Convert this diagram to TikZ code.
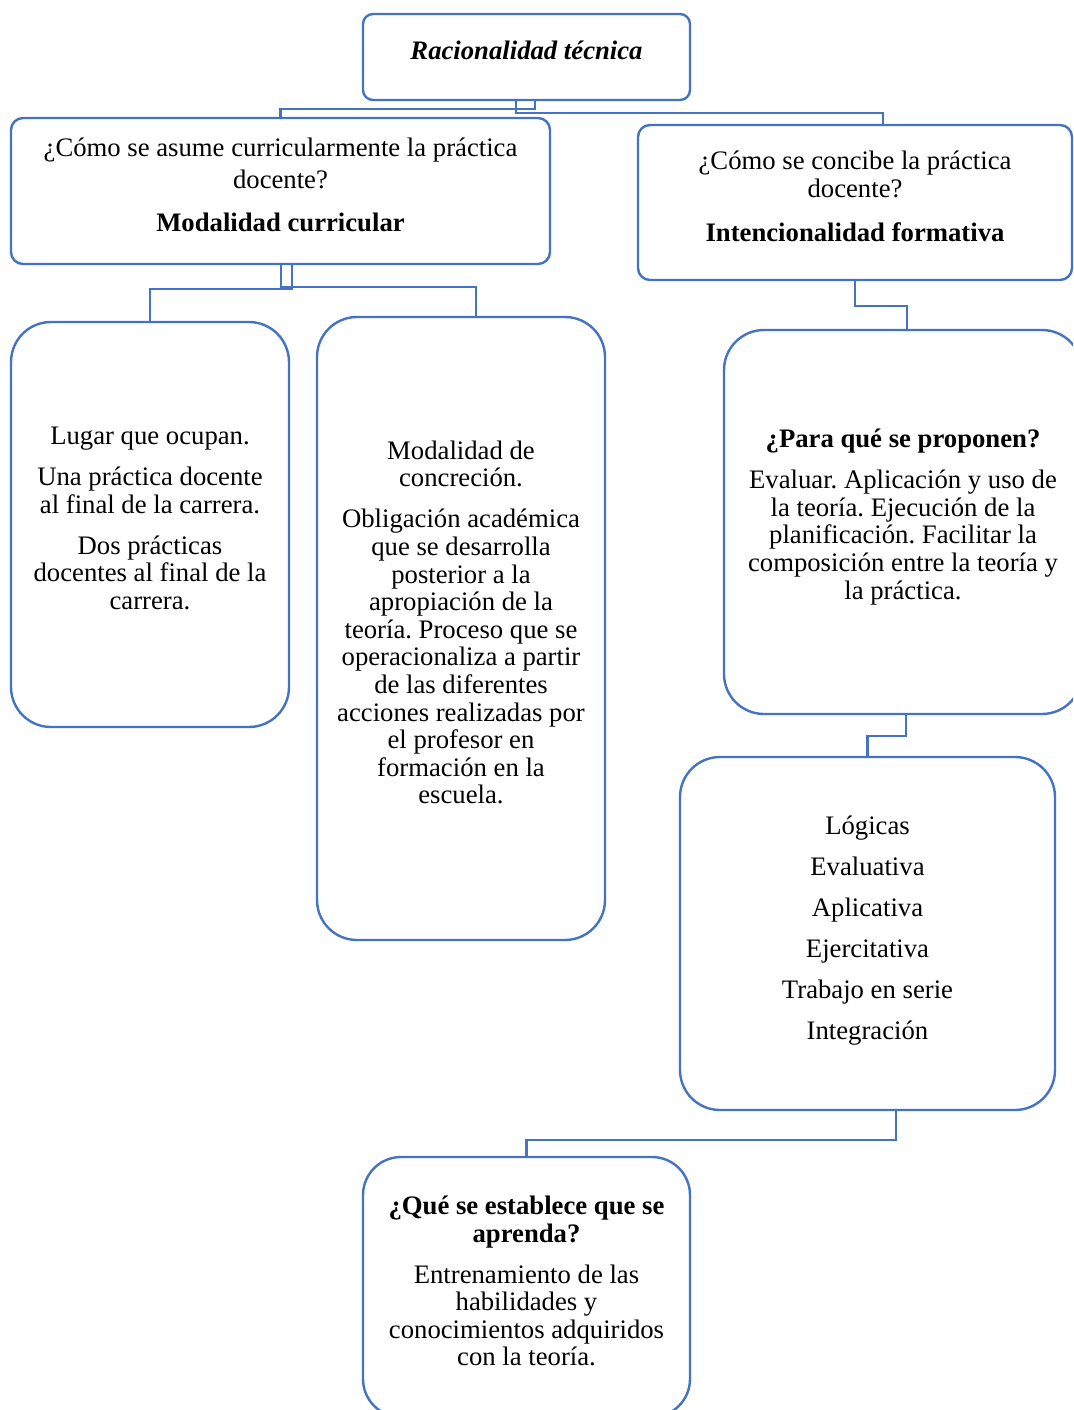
\documentclass[tikz,border=0pt]{standalone}
\usepackage{fontspec}
\setmainfont{Liberation Serif}
\usetikzlibrary{calc}
\definecolor{wordblue}{RGB}{68,114,196}
\frenchspacing
\tikzset{
  box/.style={draw=wordblue, line width=2.4pt, fill=white, inner sep=0pt},
  txt/.style={inner sep=0pt, align=center, font=\fontsize{26.7}{27.6}\selectfont\frenchspacing},
  link/.style={draw=wordblue, line width=2.4pt},
}
\begin{document}
\begin{tikzpicture}[x=1pt,y=-1pt]
\useasboundingbox (0,0) rectangle (1073,1410);
\begin{scope}
\clip (0,0) rectangle (1073,1410);
% boxes
\node[box, rounded corners=10pt, minimum width=327pt, minimum height=86pt] (top) at (526.5,57) {};
\node[box, rounded corners=12pt, minimum width=539pt, minimum height=146pt] (lh) at (280.5,191) {};
\node[box, rounded corners=12pt, minimum width=434pt, minimum height=155pt] (rh) at (855,202.5) {};
\node[box, rounded corners=40pt, minimum width=278pt, minimum height=405pt] (ba) at (150,524.5) {};
\node[box, rounded corners=40pt, minimum width=288pt, minimum height=623pt] (bb) at (461,628.5) {};
\node[box, rounded corners=40pt, minimum width=358pt, minimum height=384pt] (bc) at (903,522) {};
\node[box, rounded corners=40pt, minimum width=375pt, minimum height=353pt] (bd) at (867.5,933.5) {};
\node[box, rounded corners=38pt, minimum width=327pt, minimum height=260pt] (be) at (526.5,1287) {};
% texts
\node[txt] (ttop) at ([yshift=7pt]top.center) {\textbf{\textit{Racionalidad técnica}}};
\node[txt] (tlh) at ([yshift=6pt]lh.center)
  {¿Cómo se asume curricularmente la práctica\\[4.4pt]docente?\\[15.4pt]\textbf{Modalidad curricular}};
\node[txt] (trh) at ([yshift=6pt]rh.center)
  {¿Cómo se concibe la práctica\\docente?\\[16.4pt]\textbf{Intencionalidad formativa}};
\node[txt] (tba) at ([yshift=6pt]ba.center)
  {Lugar que ocupan.\\[13.4pt]Una práctica docente\\al final de la carrera.\\[13.4pt]Dos prácticas\\docentes al final de la\\carrera.};
\node[txt] (tbb) at ([yshift=6pt]bb.center)
  {Modalidad de\\concreción.\\[13.4pt]Obligación académica\\que se desarrolla\\posterior a la\\apropiación de la\\teoría. Proceso que se\\operacionaliza a partir\\de las diferentes\\acciones realizadas por\\el profesor en\\formación en la\\escuela.};
\node[txt] (tbc) at ([yshift=5pt]bc.center)
  {\textbf{¿Para qué se proponen?}\\[13.4pt]Evaluar. Aplicación y uso de\\la teoría. Ejecución de la\\planificación. Facilitar la\\composición entre la teoría y\\la práctica.};
\node[txt] (tbd) at ([yshift=3pt]bd.center)
  {Lógicas\\[13.4pt]Evaluativa\\[13.4pt]Aplicativa\\[13.4pt]Ejercitativa\\[13.4pt]Trabajo en serie\\[13.4pt]Integración};
\node[txt] (tbe) at ([yshift=6pt]be.center)
  {\textbf{¿Qué se establece que se}\\\textbf{aprenda?}\\[13.4pt]Entrenamiento de las\\habilidades y\\conocimientos adquiridos\\con la teoría.};
% connectors
\draw[link] ([xshift=8.5pt]top.south) -- ++(0,8) -| (lh.north);
\draw[link] ([xshift=-10.5pt]top.south) -- ++(0,12) -| ([xshift=28pt]rh.north);
\draw[link] ([xshift=11.5pt]lh.south) -- ++(0,24) -| (ba.north);
\draw[link] ([xshift=0.5pt]lh.south) -- ++(0,22) -| ([xshift=15pt]bb.north);
\draw[link] (rh.south) -- ++(0,25) -| ([xshift=4pt]bc.north);
\draw[link] ([xshift=3pt]bc.south) -- ++(0,21) -| (bd.north);
\draw[link] ([xshift=28.5pt]bd.south) -- ++(0,29) -| (be.north);
\end{scope}
\end{tikzpicture}
\end{document}
